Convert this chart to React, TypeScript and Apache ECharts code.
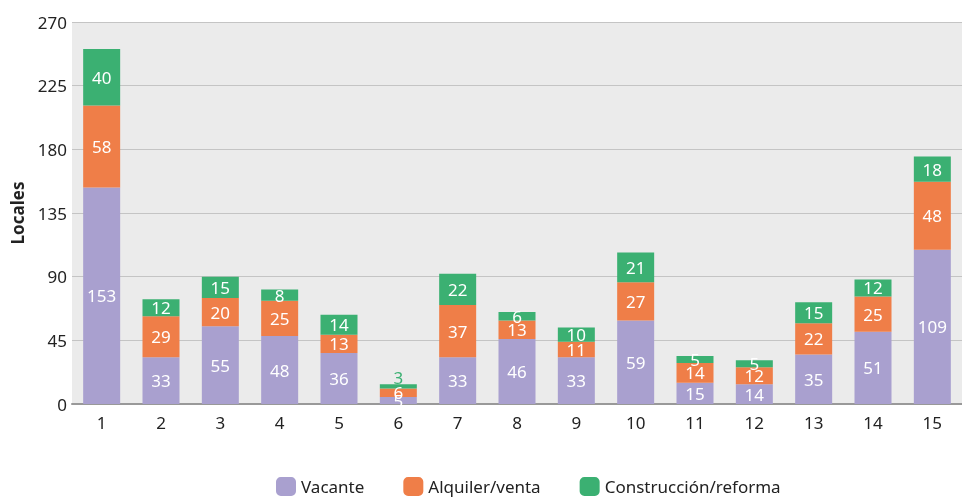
import React, { useEffect, useRef } from "react";
import * as echarts from "echarts";

const categories = ["1", "2", "3", "4", "5", "6", "7", "8", "9", "10", "11", "12", "13", "14", "15"];
const vacante = [153, 33, 55, 48, 36, 5, 33, 46, 33, 59, 15, 14, 35, 51, 109];
const alquiler = [58, 29, 20, 25, 13, 6, 37, 13, 11, 27, 14, 12, 22, 25, 48];
const construccion = [40, 12, 15, 8, 14, 3, 22, 6, 10, 21, 5, 5, 15, 12, 18];
const yTicks = { min: 0, max: 270, interval: 45 };

const PURPLE = "#a9a0cf";
const ORANGE = "#ef7e48";
const GREEN = "#3bb072";
const FONT = "Noto Sans";

export default function App() {
  const ref = useRef<HTMLDivElement>(null);
  useEffect(() => {
    document.body.style.margin = "0";
    document.body.style.overflow = "hidden";
    if (!ref.current) return;
    const chart = echarts.init(ref.current, null, { renderer: "svg" });
    const label = {
      show: true,
      position: "inside",
      color: "#ffffff",
      fontSize: 17,
      fontFamily: FONT,
    };
    const constrData = construccion.map((v) =>
      v <= 3
        ? { value: v, label: { position: "top", distance: -2, color: GREEN } }
        : v
    );
    chart.setOption({
      animation: false,
      textStyle: { fontFamily: FONT },
      grid: {
        left: 72,
        right: -3,
        top: 22,
        bottom: 93,
        show: true,
        backgroundColor: "#ebebeb",
        borderWidth: 0,
      },
      legend: {
        left: 276,
        top: 477,
        padding: 0,
        itemWidth: 20,
        itemHeight: 19,
        itemGap: 39,
        icon: "roundRect",
        textStyle: { fontSize: 17, lineHeight: 19, color: "#222", fontFamily: FONT },
        data: ["Vacante", "Alquiler/venta", "Construcción/reforma"],
      },
      xAxis: {
        type: "category",
        data: categories,
        axisTick: { show: false },
        axisLine: { show: true, lineStyle: { color: "#999", width: 2 } },
        axisLabel: { fontSize: 17, color: "#222", margin: 10, fontFamily: FONT },
      },
      yAxis: {
        type: "value",
        min: yTicks.min,
        max: yTicks.max,
        interval: yTicks.interval,
        name: "Locales",
        nameLocation: "middle",
        nameGap: 46,
        nameTextStyle: { fontSize: 17, fontWeight: "bold", color: "#222", fontFamily: FONT },
        axisLine: { show: false },
        axisTick: { show: false },
        axisLabel: { fontSize: 17, color: "#222", margin: 5, fontFamily: FONT },
        splitLine: { lineStyle: { color: "#c4c4c4", width: 1 } },
      },
      series: [
        {
          name: "Vacante",
          type: "bar",
          stack: "total",
          barWidth: 37,
          data: vacante,
          itemStyle: { color: PURPLE },
          label,
        },
        {
          name: "Alquiler/venta",
          type: "bar",
          stack: "total",
          barWidth: 37,
          data: alquiler,
          itemStyle: { color: ORANGE },
          label,
        },
        {
          name: "Construcción/reforma",
          type: "bar",
          stack: "total",
          barWidth: 37,
          data: constrData,
          itemStyle: { color: GREEN },
          label,
        },
      ],
    });
    return () => chart.dispose();
  }, []);
  return (
    <div
      ref={ref}
      style={{ position: "fixed", left: 0, top: 0, width: 962, height: 497 }}
    />
  );
}
